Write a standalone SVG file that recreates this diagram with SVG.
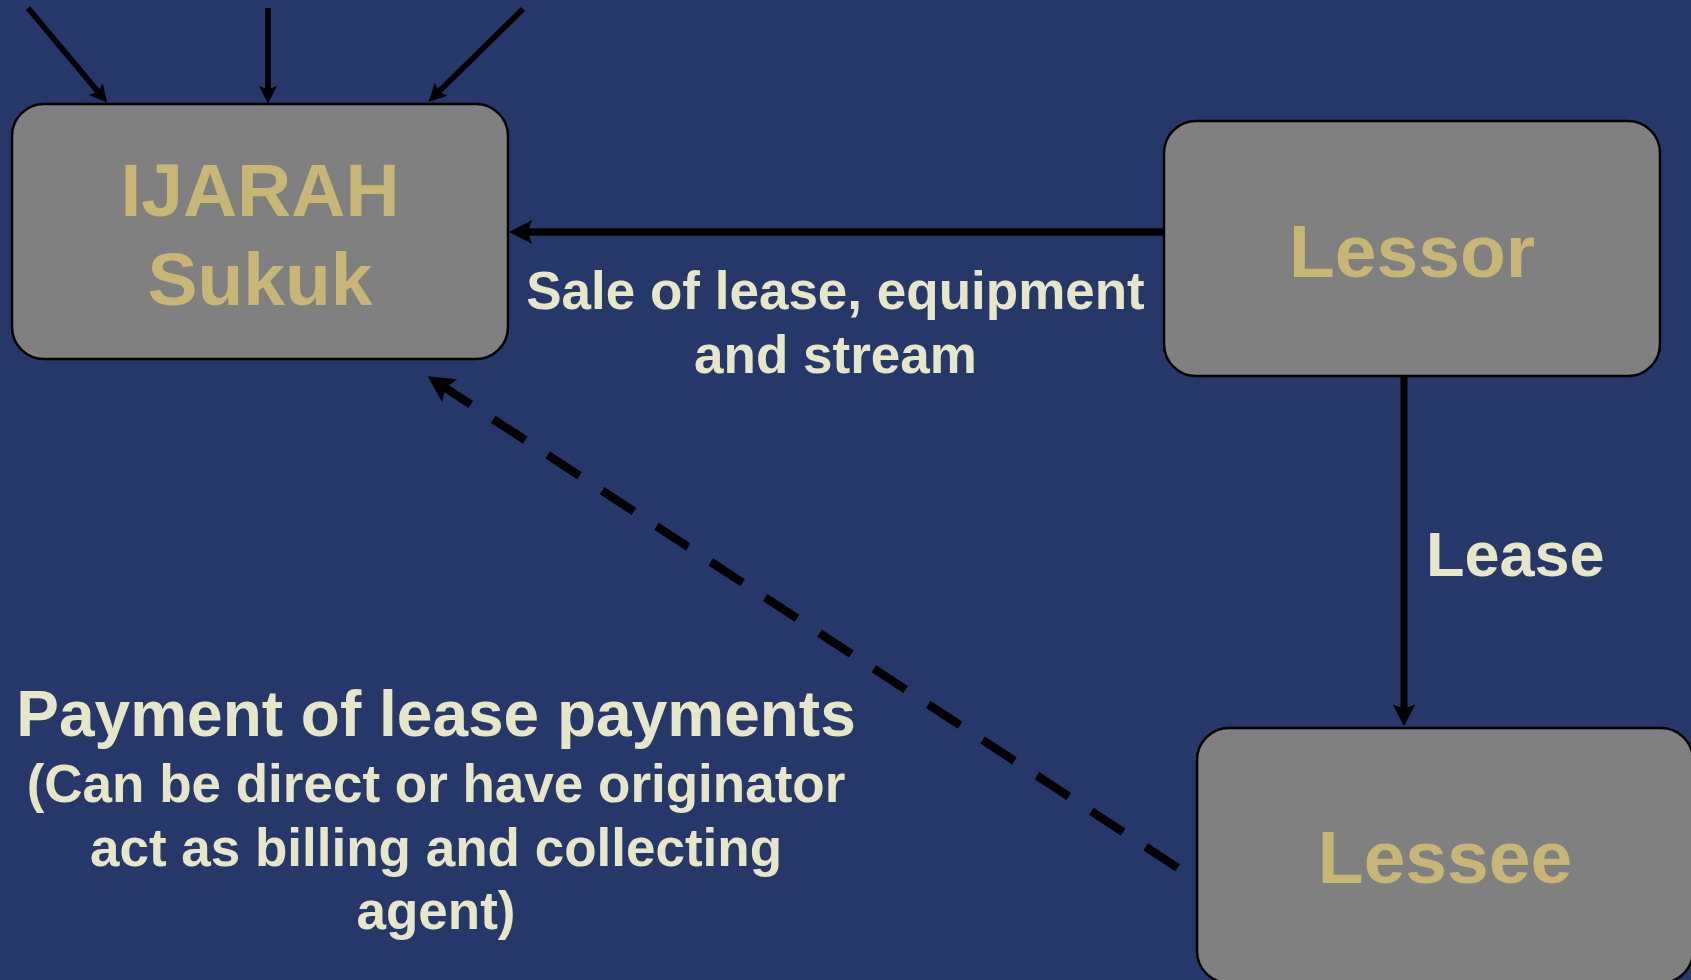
<svg xmlns="http://www.w3.org/2000/svg" width="1691" height="980" viewBox="0 0 1691 980">
  <style>
    .box { fill: #808080; stroke: #000000; stroke-width: 2.5; }
    .ntext { font-family: "Liberation Sans", Arial, sans-serif; font-weight: bold; font-size: 75px; fill: #C8B677; text-anchor: middle; }
    .ltext { font-family: "Liberation Sans", Arial, sans-serif; font-weight: bold; fill: #E6E6C8; }
    .conn { fill: none; stroke: #000000; stroke-linecap: butt; }
  </style>
  <defs>
    <marker id="arrow" viewBox="-2 -2 4 4" markerWidth="4" markerHeight="4" refX="0" refY="0" orient="auto-start-reverse" markerUnits="strokeWidth">
      <path d="M1.6,0 L-1.5,-1.6 L-0.9,0 L-1.5,1.6 Z" fill="#000000" stroke="none"/>
    </marker>
  </defs>
  <rect x="0" y="0" width="1691" height="980" fill="#263869"/>

  <g id="connectors">
    <line class="conn" x1="28" y1="8" x2="101.3" y2="95.6" stroke-width="5.7" marker-end="url(#arrow)"/>
    <line class="conn" x1="268" y1="8" x2="268" y2="94.5" stroke-width="5.7" marker-end="url(#arrow)"/>
    <line class="conn" x1="523" y1="9" x2="435.1" y2="95.3" stroke-width="5.7" marker-end="url(#arrow)"/>
    <line class="conn" x1="1164" y1="232" x2="521" y2="232" stroke-width="7.5" marker-end="url(#arrow)"/>
    <line class="conn" x1="1404" y1="376" x2="1404" y2="715" stroke-width="7" marker-end="url(#arrow)"/>
    <line class="conn" x1="439" y1="383.7" x2="1181" y2="870" stroke-width="8.5" stroke-dasharray="38 27" marker-start="url(#arrow)"/>
  </g>

  <g id="node-ijarah">
    <rect class="box" x="12" y="104" width="496" height="255" rx="32" ry="32"/>
    <text class="ntext" x="260" y="216">IJARAH</text>
    <text class="ntext" x="260" y="305">Sukuk</text>
  </g>

  <g id="node-lessor">
    <rect class="box" x="1164" y="121" width="496" height="255" rx="32" ry="32"/>
    <text class="ntext" x="1412" y="277">Lessor</text>
  </g>

  <g id="node-lessee">
    <rect class="box" x="1197" y="728" width="496" height="255" rx="32" ry="32"/>
    <text class="ntext" x="1445" y="883">Lessee</text>
  </g>

  <g id="labels">
    <text class="ltext" font-size="53" text-anchor="middle" x="835.5" y="309">Sale of lease, equipment</text>
    <text class="ltext" font-size="53" text-anchor="middle" x="835.5" y="373">and stream</text>
    <text class="ltext" font-size="63" x="1426" y="576">Lease</text>
    <text class="ltext" font-size="64" text-anchor="middle" x="436" y="736">Payment of lease payments</text>
    <text class="ltext" font-size="53" text-anchor="middle" x="436" y="802">(Can be direct or have originator</text>
    <text class="ltext" font-size="53" text-anchor="middle" x="436" y="866">act as billing and collecting</text>
    <text class="ltext" font-size="53" text-anchor="middle" x="436" y="929">agent)</text>
  </g>
</svg>
